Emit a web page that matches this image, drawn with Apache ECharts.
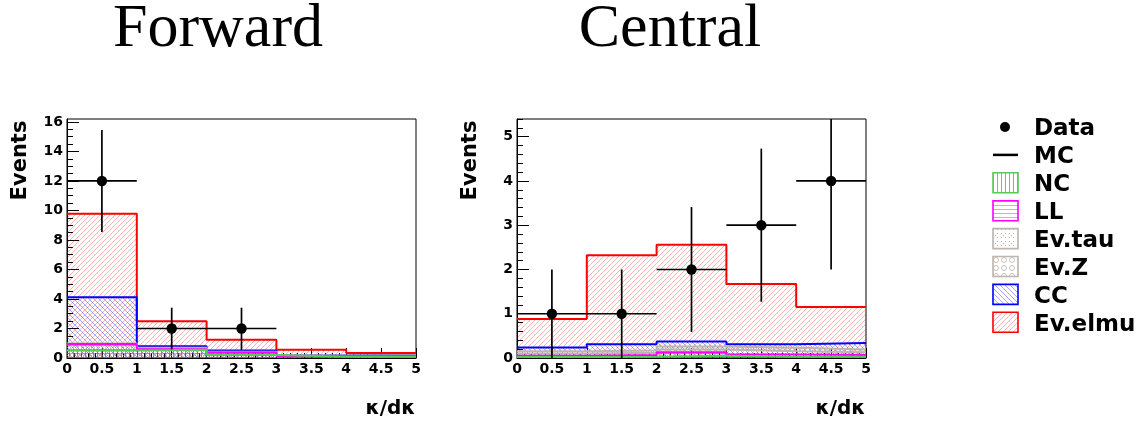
<!DOCTYPE html>
<html><head><meta charset="utf-8">
<script src="https://cdn.jsdelivr.net/npm/echarts@6/dist/echarts.min.js"></script>
<style>html,body{margin:0;padding:0;background:#fff}#c{width:1147px;height:426px}</style>
</head><body><div id="c"></div>
<script>
// ---------- data ----------
const binEdges = [0, 1, 2, 3, 4, 5];
const xTickValues = [0, 0.5, 1, 1.5, 2, 2.5, 3, 3.5, 4, 4.5, 5];
const panelTitles = ['Forward', 'Central'];
const componentNames = ['NC', 'LL', 'Ev.tau', 'Ev.Z', 'CC', 'Ev.elmu']; // stacked bottom -> top

// Forward panel (per component, per bin)
const fwdNC     = [0.50, 0.56, 0.20, 0.08, 0.08];
const fwdLL     = [0.45, 0.04, 0.18, 0.06, 0.06];
const fwdEvTau  = [0.02, 0.05, 0.02, 0.01, 0.02];
const fwdEvZ    = [0.02, 0.05, 0.02, 0.01, 0.02];
const fwdCC     = [3.13, 0.10, 0.08, 0.01, 0.02];
const fwdEvElmu = [5.66, 1.69, 0.74, 0.39, 0.14];
const fwdData   = [12, 2, 2, 0, 0];
const fwdErr    = [3.46, 1.41, 1.41, 0, 0];
const fwdYTicks = [0, 2, 4, 6, 8, 10, 12, 14, 16];
const fwdYMax = 16.2;

// Central panel
const cenNC     = [0.02, 0.03, 0.05, 0.03, 0.03];
const cenLL     = [0.03, 0.04, 0.08, 0.05, 0.04];
const cenEvTau  = [0.05, 0.05, 0.06, 0.07, 0.06];
const cenEvZ    = [0.05, 0.05, 0.07, 0.08, 0.06];
const cenCC     = [0.09, 0.14, 0.11, 0.08, 0.15];
const cenEvElmu = [0.64, 2.01, 2.19, 1.36, 0.81];
const cenData   = [1, 1, 2, 3, 4];
const cenErr    = [1, 1, 1.41, 1.73, 2];
const cenYTicks = [0, 1, 2, 3, 4, 5];
const cenYMax = 5.4;

// ---------- styles ----------
const FONT = '"DejaVu Sans", "Liberation Sans", sans-serif';
const compColors = {
  'NC': '#55cc55', 'LL': '#ff00ff', 'Ev.tau': '#bdb5ad', 'Ev.Z': '#bdb5ad', 'CC': '#0000ff', 'Ev.elmu': '#ff0000'
};
function makePattern(kind) {
  const c = document.createElement('canvas');
  let s = 5;
  if (kind === 'tau' || kind === 'Z') s = 8;
  if (kind === 'h' || kind === 'v') s = 4;
  c.width = c.height = s;
  const g = c.getContext('2d');
  g.lineWidth = 1;
  if (kind === 'up') {
    g.strokeStyle = 'rgba(255,0,0,0.3)';
    g.beginPath();
    g.moveTo(0, s); g.lineTo(s, 0);
    g.moveTo(-1, 1); g.lineTo(1, -1);
    g.moveTo(s - 1, s + 1); g.lineTo(s + 1, s - 1);
    g.stroke();
  } else if (kind === 'down') {
    g.strokeStyle = 'rgba(0,0,255,0.35)';
    g.beginPath();
    g.moveTo(0, 0); g.lineTo(s, s);
    g.moveTo(-1, s - 1); g.lineTo(1, s + 1);
    g.moveTo(s - 1, -1); g.lineTo(s + 1, 1);
    g.stroke();
  } else if (kind === 'h') {
    g.fillStyle = 'rgba(255,0,255,0.45)';
    g.fillRect(0, 1, s, 1);
  } else if (kind === 'v') {
    g.fillStyle = 'rgba(0,170,0,0.6)';
    g.fillRect(1, 0, 1, s);
  } else if (kind === 'tau') {
    g.fillStyle = 'rgba(150,140,130,0.7)';
    g.fillRect(1, 1, 1, 1); g.fillRect(5, 5, 1, 1); g.fillRect(5, 1, 1, 1); g.fillRect(1, 5, 1, 1);
    g.fillRect(3, 3, 1, 1);
  } else if (kind === 'Z') {
    g.strokeStyle = 'rgba(160,150,140,0.6)';
    g.beginPath(); g.arc(4, 4, 2.5, 0, Math.PI * 2); g.stroke();
  }
  return { image: c, repeat: 'repeat' };
}
const compPatterns = {
  'NC': makePattern('v'), 'LL': makePattern('h'), 'Ev.tau': makePattern('tau'),
  'Ev.Z': makePattern('Z'), 'CC': makePattern('down'), 'Ev.elmu': makePattern('up')
};

// ---------- builders ----------
function cumulative(list) {
  const out = []; let run = [0, 0, 0, 0, 0];
  list.forEach(arr => { run = run.map((v, i) => v + arr[i]); out.push(run.slice()); });
  return out;
}
const panels = [
  { comps: [fwdNC, fwdLL, fwdEvTau, fwdEvZ, fwdCC, fwdEvElmu], data: fwdData, err: fwdErr, yTicks: fwdYTicks, yMax: fwdYMax, minorStep: 0.5, left: 67 },
  { comps: [cenNC, cenLL, cenEvTau, cenEvZ, cenCC, cenEvElmu], data: cenData, err: cenErr, yTicks: cenYTicks, yMax: cenYMax, minorStep: 0.2, left: 517 }
];

const grids = [], xAxes = [], yAxes = [], series = [];
panels.forEach((p, pi) => {
  grids.push({ left: p.left, top: 119, width: 349, height: 239, show: true, borderColor: '#000', borderWidth: 1, backgroundColor: 'transparent' });
  xAxes.push({
    type: 'value', gridIndex: pi, min: 0, max: 5, interval: 0.5,
    axisLine: { show: true, onZero: false, lineStyle: { color: '#000', width: 1 } },
    axisTick: { show: true, inside: true, length: 10, lineStyle: { color: '#000', width: 1 } },
    minorTick: { show: true, splitNumber: 5, length: 5, lineStyle: { color: '#000', width: 1 } },
    axisLabel: { color: '#000', fontFamily: FONT, fontWeight: 'bold', fontSize: 14, margin: 4 },
    splitLine: { show: false }, minorSplitLine: { show: false }
  });
  const minors = [];
  for (let k = 0; k * p.minorStep <= p.yMax + 1e-9; k++) minors.push(+(k * p.minorStep).toFixed(3));
  const yMain = yAxes.length;
  yAxes.push({
    type: 'value', gridIndex: pi, min: 0, max: p.yMax, position: 'left',
    axisLine: { show: true, onZero: false, lineStyle: { color: '#000', width: 1 } },
    axisTick: { show: true, inside: true, length: 12, customValues: p.yTicks, lineStyle: { color: '#000', width: 1 } },
    axisLabel: { customValues: p.yTicks, color: '#000', fontFamily: FONT, fontWeight: 'bold', fontSize: 14, margin: 4 },
    splitLine: { show: false }
  });
  yAxes.push({
    type: 'value', gridIndex: pi, min: 0, max: p.yMax, position: 'left',
    axisLine: { show: false },
    axisTick: { show: true, inside: true, length: 6, customValues: minors, lineStyle: { color: '#000', width: 1 } },
    axisLabel: { show: false }, splitLine: { show: false }
  });
  const cums = cumulative(p.comps);
  // fills, largest cumulative first
  for (let ci = componentNames.length - 1; ci >= 0; ci--) {
    const name = componentNames[ci];
    const cum = cums[ci];
    series.push({
      type: 'custom', name: name, xAxisIndex: pi, yAxisIndex: yMain, z: 2, silent: true, animation: false,
      data: cum.map((v, i) => [binEdges[i], binEdges[i + 1], v]),
      renderItem: (params, api) => {
        const a = api.coord([api.value(0), api.value(2)]);
        const b = api.coord([api.value(1), 0]);
        return { type: 'rect', shape: { x: a[0], y: a[1], width: b[0] - a[0], height: b[1] - a[1] }, style: { fill: compPatterns[name] } };
      }
    });
  }
  for (let ci = componentNames.length - 1; ci >= 0; ci--) {
    const name = componentNames[ci];
    const cum = cums[ci];
    const pts = cum.map((v, i) => [binEdges[i], v]);
    pts.push([binEdges[5], cum[4]]);
    series.push({
      type: 'line', name: name + ' outline', step: 'end', xAxisIndex: pi, yAxisIndex: yMain, z: 3,
      silent: true, animation: false, symbol: 'none', showSymbol: false,
      lineStyle: { color: compColors[name], width: 2 }, data: pts
    });
  }
  // data points with error bars
  const yMax = p.yMax;
  series.push({
    type: 'custom', name: 'Data', xAxisIndex: pi, yAxisIndex: yMain, z: 5, silent: true, animation: false,
    data: p.data.map((v, i) => [(binEdges[i] + binEdges[i + 1]) / 2, v, binEdges[i], binEdges[i + 1], p.err[i]]).filter(d => d[1] > 0),
    renderItem: (params, api) => {
      const x = api.value(0), y = api.value(1), e = api.value(4);
      const c = api.coord([x, y]);
      const lo = api.coord([x, Math.max(0, y - e)]);
      const hi = api.coord([x, Math.min(yMax, y + e)]);
      const l = api.coord([api.value(2), y]);
      const r = api.coord([api.value(3), y]);
      const st = { stroke: '#000', lineWidth: 1.7 };
      return { type: 'group', children: [
        { type: 'line', shape: { x1: c[0], y1: lo[1], x2: c[0], y2: hi[1] }, style: st },
        { type: 'line', shape: { x1: l[0], y1: c[1], x2: r[0], y2: c[1] }, style: st },
        { type: 'circle', shape: { cx: c[0], cy: c[1], r: 5.2 }, style: { fill: '#000' } }
      ] };
    }
  });
});

// ---------- text & legend ----------
const graphic = [];
const titleX = [218, 670];
panelTitles.forEach((t, i) => {
  graphic.push({ type: 'text', x: titleX[i], y: 30, style: { text: t, font: '62px "Liberation Serif", serif', fill: '#000', align: 'center', textAlign: 'center', verticalAlign: 'middle', textVerticalAlign: 'middle' } });
});
const evX = [21, 471];
evX.forEach(x => {
  graphic.push({ type: 'text', x: x, y: 160.5, rotation: Math.PI / 2, style: { text: 'Events', font: 'bold 21px ' + FONT, fill: '#000', align: 'center', textAlign: 'center', verticalAlign: 'middle', textVerticalAlign: 'middle' } });
});
[415.5, 865.5].forEach(x => {
  graphic.push({ type: 'text', x: x, y: 409, style: { text: 'κ/dκ', font: 'bold 20px ' + FONT, fill: '#000', align: 'right', textAlign: 'right', verticalAlign: 'middle', textVerticalAlign: 'middle' } });
});
const legendNames = ['Data', 'MC', 'NC', 'LL', 'Ev.tau', 'Ev.Z', 'CC', 'Ev.elmu'];
legendNames.forEach((n, i) => {
  const ty = 129.5 + i * 27.9;
  const my = ty - 2.5;
  graphic.push({ type: 'text', x: 1034, y: ty, style: { text: n, font: 'bold 23px ' + FONT, fill: '#000', align: 'left', textAlign: 'left', verticalAlign: 'middle', textVerticalAlign: 'middle' } });
  if (n === 'Data') {
    graphic.push({ type: 'circle', shape: { cx: 1005, cy: my, r: 5 }, style: { fill: '#000' } });
  } else if (n === 'MC') {
    graphic.push({ type: 'line', shape: { x1: 993, y1: my, x2: 1018, y2: my }, style: { stroke: '#000', lineWidth: 2.5 } });
  } else {
    graphic.push({ type: 'rect', shape: { x: 993, y: my - 10, width: 25, height: 20 }, style: { fill: compPatterns[n], stroke: compColors[n], lineWidth: 1.6 } });
  }
});

const chart = echarts.init(document.getElementById('c'), null, { renderer: 'canvas' });
chart.setOption({
  animation: false,
  backgroundColor: '#fff',
  grid: grids, xAxis: xAxes, yAxis: yAxes, series: series, graphic: graphic
});
</script></body></html>
